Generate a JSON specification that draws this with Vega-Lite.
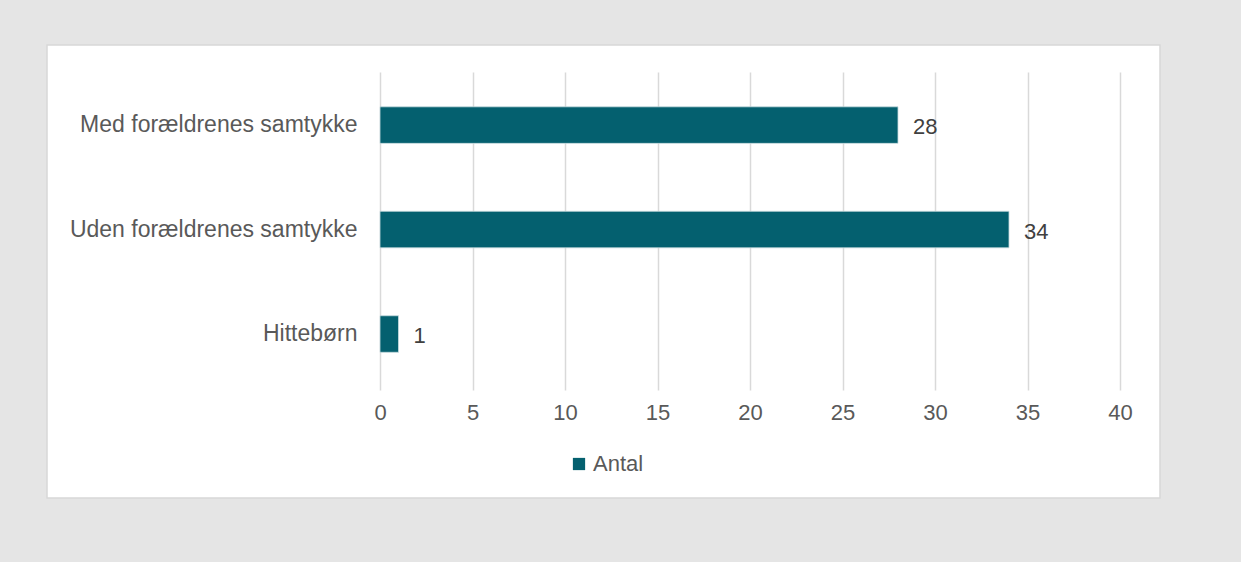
{
  "$schema": "https://vega.github.io/schema/vega-lite/v6.json",
  "autosize": {"type": "none"},
  "width": 1113,
  "height": 453,
  "padding": {"left": 47, "top": 45, "right": 81, "bottom": 64},
  "background": "#e5e5e5",
  "config": {
    "view": {"fill": "#ffffff", "stroke": "#d8d8d8", "strokeWidth": 1.5},
    "font": "Liberation Sans"
  },
  "data": {
    "values": [
      {"kategori": "Med forældrenes samtykke", "antal": 28, "serie": "Antal"},
      {"kategori": "Uden forældrenes samtykke", "antal": 34, "serie": "Antal"},
      {"kategori": "Hittebørn", "antal": 1, "serie": "Antal"}
    ]
  },
  "encoding": {
    "y": {
      "field": "kategori",
      "type": "nominal",
      "sort": null,
      "scale": {"range": [27, 345], "paddingInner": 0.65, "paddingOuter": 0.347, "align": 0.48},
      "axis": {
        "title": null,
        "offset": -333,
        "labelPadding": 23,
        "labelLimit": 500,
        "domain": false,
        "ticks": false,
        "grid": false,
        "labelFontSize": 23,
        "labelColor": "#595959",
        "labelFont": "Liberation Sans"
      }
    },
    "x": {
      "field": "antal",
      "type": "quantitative",
      "scale": {"domain": [0, 40], "range": [333, 1073], "nice": false},
      "axis": {
        "title": null,
        "orient": "top",
        "values": [0, 5, 10, 15, 20, 25, 30, 35, 40],
        "labelPadding": -367,
        "labelBaseline": "middle",
        "labelFlush": false,
        "labelOverlap": false,
        "domain": false,
        "ticks": false,
        "grid": true,
        "gridColor": "#d9d9d9",
        "gridWidth": 1.5,
        "labelFontSize": 22,
        "labelColor": "#595959",
        "labelFont": "Liberation Sans"
      }
    }
  },
  "layer": [
    {
      "mark": {"type": "bar", "stroke": "#c9dcdf", "strokeWidth": 0.8},
      "encoding": {
        "color": {
          "field": "serie",
          "type": "nominal",
          "scale": {"range": ["#04606f"]},
          "legend": {
            "title": null,
            "orient": "none",
            "legendX": 521,
            "legendY": 408,
            "symbolType": "square",
            "symbolSize": 150,
            "symbolStrokeWidth": 0,
            "labelFontSize": 22,
            "labelColor": "#595959",
            "labelFont": "Liberation Sans",
            "labelOffset": 3
          }
        }
      }
    },
    {
      "mark": {"type": "text", "align": "left", "dx": 15, "dy": 2, "fontSize": 22, "color": "#404040", "font": "Liberation Sans"},
      "encoding": {"text": {"field": "antal", "type": "quantitative"}}
    }
  ]
}
